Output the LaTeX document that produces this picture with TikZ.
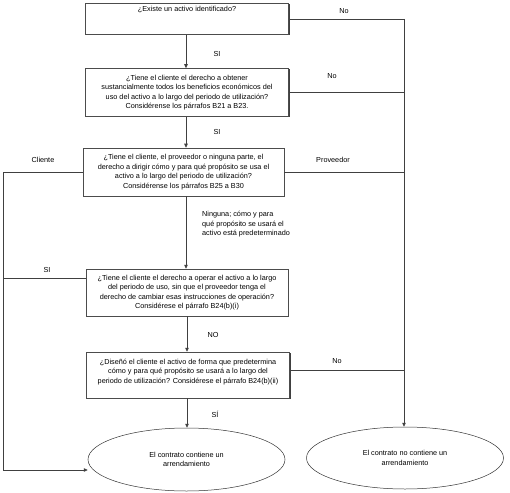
\documentclass[tikz,border=0pt]{standalone}
\usepackage{fontspec}
\setmainfont{Liberation Sans}
\usetikzlibrary{arrows.meta,shadows,shapes.geometric}
\begin{document}
\begin{tikzpicture}[x=1bp,y=-1bp,
  every node/.style={font=\fontsize{7.3}{9.6}\selectfont},
  qbox/.style={draw=black!70, line width=0.5bp, fill=white, rectangle, align=center, inner xsep=1bp, inner ysep=2bp,
     general shadow={fill=black!75, shadow xshift=1bp, shadow yshift=-1bp}},
  endell/.style={draw=black!80, line width=0.5bp, ellipse, align=center, inner sep=0pt},
  conn/.style={draw=black!75, line width=0.6bp},
  arr/.style={conn, -{Triangle[length=4bp,width=3.5bp]}},
  lbl/.style={inner sep=0pt, align=center}
]
\useasboundingbox (0,0) rectangle (510,493);
\fill[white] (0,0) rectangle (510,493);

% boxes
\node[qbox, minimum width=203bp, text height=6bp, text depth=21bp] (b1) at (187,19)
  {¿Existe un activo identificado?};
\node[qbox, minimum width=203bp, minimum height=48bp] (b2) at (187,92.5)
  {¿Tiene el cliente el derecho a obtener\\ sustancialmente todos los beneficios económicos del\\ uso del activo a lo largo del periodo de utilización?\\ Considérense los párrafos B21 a B23.};
\node[qbox, minimum width=201bp, minimum height=48bp] (b3) at (183.5,172)
  {¿Tiene el cliente, el proveedor o ninguna parte, el\\ derecho a dirigir cómo y para qué propósito se usa el\\ activo a lo largo del periodo de utilización?\\ Considérense los párrafos B25 a B30};
\node[qbox, minimum width=202bp, minimum height=47bp] (b4) at (187,292.5)
  {¿Tiene el cliente el derecho a operar el activo a lo largo\\ del periodo de uso, sin que el proveedor tenga el\\ derecho de cambiar esas instrucciones de operación?\\ Considérese el párrafo B24(b)(i)};
\node[qbox, minimum width=203bp, minimum height=46bp, text depth=8bp] (b5) at (188,375)
  {¿Diseñó el cliente el activo de forma que predetermina\\ cómo y para qué propósito se usará a lo largo del\\ periodo de utilización? Considérese el párrafo B24(b)(ii)};

% ellipses
\node[endell, minimum width=197bp, minimum height=63bp] (e1) at (186.5,459.5)
  {El contrato contiene un\\ arrendamiento};
\node[endell, minimum width=197bp, minimum height=62bp] (e2) at (405,458)
  {El contrato no contiene un\\ arrendamiento};

% coordinates
\coordinate (r1) at (404,19);
\coordinate (l1) at (3,172);
\coordinate (l2) at (3,470);
\coordinate (l3) at (3,278);

% main vertical flow
\draw[arr] (b1.south -| 186,0) -- (b2.north -| 186,0);
\draw[arr] (b2.south -| 186,0) -- (b3.north -| 186,0);
\draw[arr] (b3.south -| 186,0) -- (b4.north -| 186,0);
\draw[arr] (b4.south -| 187,0) -- (b5.north -| 187,0);
\draw[arr] (b5.south -| 187,0) -- (e1.north -| 187,0);

% right side (No / Proveedor)
\draw[conn] (b1.east) -- (r1);
\draw[arr] (r1) -- (e2.north -| r1);
\draw[conn] (b2.east) -- (b2.east -| r1);
\draw[conn] (b3.east) -- (b3.east -| r1);
\draw[conn] ([yshift=5bp]b5.east) -- ([yshift=5bp]b5.east -| r1);

% left side (Cliente / SI)
\draw[conn] (b3.west) -- (l1) -- (l2);
\draw[arr] (l2) -- (l2 -| e1.west);
\draw[conn] (l3) -- (l3 -| b4.west);

% labels
\node[lbl] (n1) at (344,11) {No};
\node[lbl] (s1) at (217,54) {SI};
\node[lbl] (n2) at (332,76) {No};
\node[lbl] (s2) at (217,132) {SI};
\node[lbl] (cl) at (43,160) {Cliente};
\node[lbl] (pr) at (333,160) {Proveedor};
\node[lbl, align=left, anchor=north west] (ng) at (202,211)
  {Ninguna; cómo y para\\ qué propósito se usará el\\ activo está predeterminado};
\node[lbl] (s3) at (47,270) {SI};
\node[lbl] (n3) at (213,335) {NO};
\node[lbl] (n4) at (337,361) {No};
\node[lbl] (s4) at (215,414) {SÍ};
\end{tikzpicture}
\end{document}
